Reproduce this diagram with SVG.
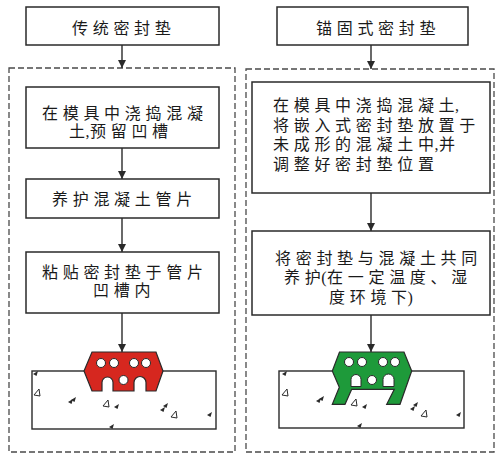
<svg xmlns="http://www.w3.org/2000/svg" width="497" height="456" viewBox="0 0 497 456">
  <defs>
    <style>
      .box { fill: #ffffff; stroke: #2a2a2a; stroke-width: 1.5; }
      .frame { fill: none; stroke: #4a4a4a; stroke-width: 1.3; stroke-dasharray: 6 3; }
      .lbl { font-family: "Liberation Serif", "Noto Sans CJK SC", serif; font-size: 16px; fill: #1a1a1a; letter-spacing: 4.7px; }
      .tight { letter-spacing: 0.5px; }
      .wire { stroke: #2a2a2a; stroke-width: 1.4; fill: none; }
      .concrete { fill: #ffffff; stroke: #2a2a2a; stroke-width: 1.4; }
      .hole { fill: #ffffff; stroke: #2a2a2a; stroke-width: 1; }
      .grain { fill: #2a2a2a; }
      .grain-o { fill: #ffffff; stroke: #2a2a2a; stroke-width: 1; }
    </style>
    <marker id="arrow" viewBox="0 0 8 8" refX="8" refY="4" markerWidth="8" markerHeight="8" markerUnits="userSpaceOnUse" orient="auto">
      <path d="M0,0 L8,4 L0,8 Z" fill="#2a2a2a"/>
    </marker>
    <polygon id="g-fill" points="0,0 5,-3 3.5,2" class="grain"/>
    <polygon id="g-open" points="0,0 5,-6 6,1" class="grain-o"/>
  </defs>

  <!-- dashed process frames -->
  <rect class="frame" x="9" y="68" width="226" height="384"/>
  <rect class="frame" x="246" y="69" width="248" height="383"/>

  <!-- connectors -->
  <g id="connectors">
    <line class="wire" x1="122" y1="45" x2="122" y2="68" marker-end="url(#arrow)"/>
    <line class="wire" x1="122" y1="148" x2="122" y2="179" marker-end="url(#arrow)"/>
    <line class="wire" x1="122" y1="218" x2="122" y2="252" marker-end="url(#arrow)"/>
    <line class="wire" x1="122" y1="313" x2="122" y2="352" marker-end="url(#arrow)"/>
    <line class="wire" x1="371" y1="45" x2="371" y2="69" marker-end="url(#arrow)"/>
    <line class="wire" x1="371" y1="193" x2="371" y2="231" marker-end="url(#arrow)"/>
    <line class="wire" x1="371" y1="315" x2="371" y2="352" marker-end="url(#arrow)"/>
  </g>

  <!-- left column: conventional gasket -->
  <g id="title-left">
    <rect class="box" x="26" y="7" width="193" height="38"/>
    <text class="lbl" x="72" y="34">传统密封垫</text>
  </g>
  <g id="step-left-1">
    <rect class="box" x="26" y="87" width="193" height="61"/>
    <text class="lbl" x="42" y="119">在模具中浇捣混凝</text>
    <text class="lbl" x="69" y="137"><tspan class="tight">土,</tspan>预留凹槽</text>
  </g>
  <g id="step-left-2">
    <rect class="box" x="26" y="179" width="193" height="39"/>
    <text class="lbl" x="52" y="205">养护混凝土管片</text>
  </g>
  <g id="step-left-3">
    <rect class="box" x="26" y="252" width="193" height="61"/>
    <text class="lbl" x="42" y="278">粘贴密封垫于管片</text>
    <text class="lbl" x="93" y="296">凹槽内</text>
  </g>
  <g id="section-left">
    <rect class="concrete" x="32" y="371" width="184" height="58"/>
    <use href="#g-fill" x="33" y="374"/>
    <use href="#g-open" x="34" y="395"/>
    <use href="#g-fill" x="68" y="402"/>
    <use href="#g-fill" x="71" y="400"/>
    <use href="#g-open" x="103" y="406"/>
    <use href="#g-fill" x="114" y="407"/>
    <use href="#g-fill" x="160" y="410"/>
    <use href="#g-fill" x="163" y="406"/>
    <use href="#g-open" x="171" y="417"/>
    <use href="#g-fill" x="207" y="415"/>
    <use href="#g-fill" x="109" y="427"/>
    <path d="M92,352 L156,352 L163,371 L156,391 L146,391 L146,382.5 A6,6 0 0 0 134,382.5 L134,391 L113,391 L113,382.5 A5.5,5.5 0 0 0 102,382.5 L102,391 L92,391 L84,371 Z" fill="#d6271f" stroke="#2a2a2a" stroke-width="1.2"/>
    <circle class="hole" cx="101" cy="363" r="4.5"/>
    <circle class="hole" cx="114" cy="363" r="4.5"/>
    <circle class="hole" cx="134" cy="363" r="4.5"/>
    <circle class="hole" cx="146" cy="363" r="4.5"/>
    <circle class="hole" cx="123.5" cy="380" r="4.5"/>
  </g>

  <!-- right column: anchored gasket -->
  <g id="title-right">
    <rect class="box" x="277" y="7" width="191" height="38"/>
    <text class="lbl" x="316" y="34">锚固式密封垫</text>
  </g>
  <g id="step-right-1">
    <rect class="box" x="252" y="82" width="238" height="111"/>
    <text class="lbl" x="273" y="111">在模具中浇捣混凝<tspan class="tight">土,</tspan></text>
    <text class="lbl" x="273" y="130.5">将嵌入式密封垫放置于</text>
    <text class="lbl" x="273" y="150">未成形的混凝土<tspan class="tight">中,</tspan>并</text>
    <text class="lbl" x="273" y="169.5">调整好密封垫位置</text>
  </g>
  <g id="step-right-2">
    <rect class="box" x="252" y="231" width="238" height="84"/>
    <text class="lbl" x="275" y="264">将密封垫与混凝土共同</text>
    <text class="lbl" x="284" y="283">养<tspan class="tight">护(</tspan>在一定温度、湿</text>
    <text class="lbl" x="329" y="303">度环境<tspan class="tight">下)</tspan></text>
  </g>
  <g id="section-right">
    <rect class="concrete" x="279" y="371" width="185" height="57"/>
    <use href="#g-fill" x="282" y="374"/>
    <use href="#g-open" x="282" y="395"/>
    <use href="#g-fill" x="316" y="401"/>
    <use href="#g-fill" x="319" y="399"/>
    <use href="#g-open" x="351" y="405"/>
    <use href="#g-fill" x="362" y="407"/>
    <use href="#g-fill" x="410" y="409"/>
    <use href="#g-fill" x="413" y="405"/>
    <use href="#g-open" x="421" y="416"/>
    <use href="#g-fill" x="456" y="415"/>
    <use href="#g-fill" x="357" y="426"/>
    <path d="M339.5,352 L404,352 L411.7,371 L400,404.3 L386.7,404.3 L394.3,389.3 L351.7,389.3 L345,404.3 L332.3,404.3 L339.3,387.3 L332.3,371 Z" fill="#1e9a3a" stroke="#2a2a2a" stroke-width="1.2"/>
    <path class="hole" d="M351,386.5 L351,379.5 A5,5 0 0 1 361,379.5 L361,386.5 Z"/>
    <path class="hole" d="M383,386.5 L383,379.5 A5.5,5.5 0 0 1 394,379.5 L394,386.5 Z"/>
    <circle class="hole" cx="349" cy="362" r="4.5"/>
    <circle class="hole" cx="362" cy="362" r="4.5"/>
    <circle class="hole" cx="383" cy="362" r="4.5"/>
    <circle class="hole" cx="395" cy="362" r="4.5"/>
    <circle class="hole" cx="372" cy="380" r="4.5"/>
  </g>
</svg>
